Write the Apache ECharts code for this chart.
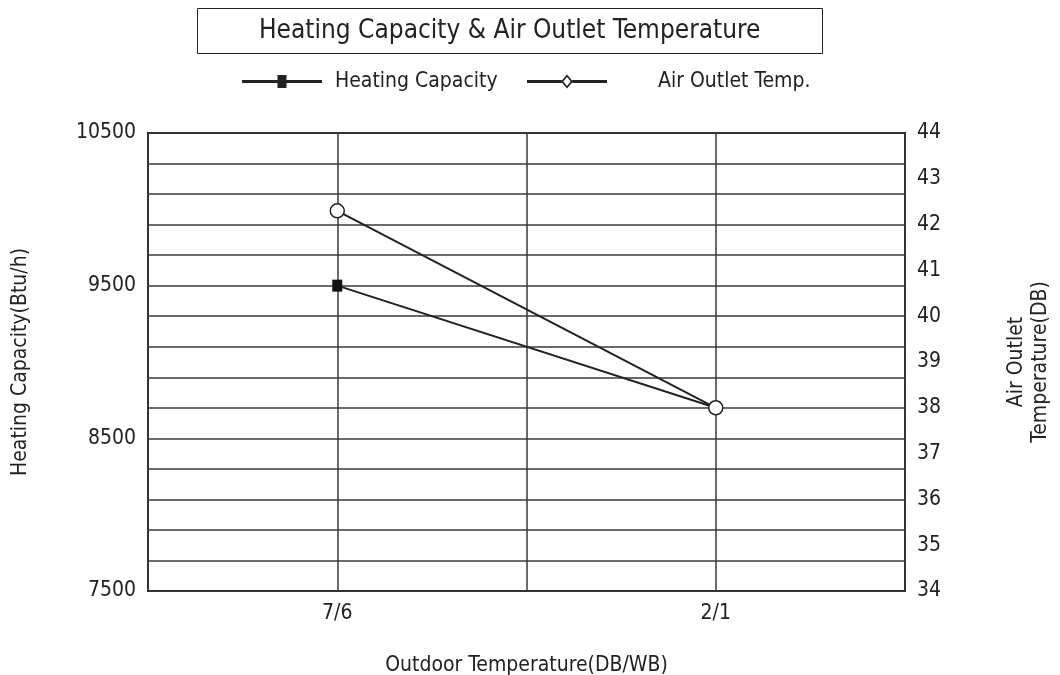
<!DOCTYPE html>
<html>
<head>
<meta charset="utf-8">
<script src="https://cdn.jsdelivr.net/npm/echarts@6/dist/echarts.min.js"></script>
<style>
  html, body { margin: 0; padding: 0; background: #fff; }
  #chart { width: 1060px; height: 675px; }
</style>
</head>
<body>
<div id="chart"></div>
<script>
// Outdoor conditions (DB/WB); empty slots give the grid its extra columns
const xSlots = ['', '7/6', '', '2/1', ''];
const conditions = ['7/6', '2/1'];
const heatingCapacity = [9500, 8700];   // Btu/h
const airOutletTemp = [42.3, 38.0];     // °C DB
const leftTickLabels = [7500, 8500, 9500, 10500];
const rightTickLabels = [34, 35, 36, 37, 38, 39, 40, 41, 42, 43, 44];

const FONT = "'Liberation Sans Narrow', 'DejaVu Sans Condensed', sans-serif";
const INK = '#222';

// legend glyphs: line with a filled square / line with a hollow diamond
const iconSquare = 'path://M0,5.6L35.5,5.6L35.5,0.5L44.5,0.5L44.5,5.6L80,5.6L80,8.4L44.5,8.4L44.5,13.5L35.5,13.5L35.5,8.4L0,8.4Z';
const iconDiamond = 'path://M0,5.6L34.6,5.6L34.6,8.4L0,8.4Z M45.4,5.6L80,5.6L80,8.4L45.4,8.4Z M40,0L46,7L40,14L34,7Z M40,2.4L36.3,7L40,11.6L43.7,7Z';
const legendItemStyle = { color: '#222', borderWidth: 0 };

const chart = echarts.init(document.getElementById('chart'), null, { renderer: 'canvas' });

chart.setOption({
  backgroundColor: '#fff',
  animation: false,
  textStyle: { fontFamily: FONT },
  title: {
    text: 'Heating Capacity & Air Outlet Temperature',
    left: 197,
    top: 8,
    padding: [10, 62, 10, 62],
    borderColor: INK,
    borderWidth: 1,
    textStyle: { fontFamily: FONT, fontSize: 26, fontWeight: 'normal', color: INK }
  },
  legend: [
    {
      data: [{ name: 'Heating Capacity', icon: iconSquare, itemStyle: legendItemStyle }],
      left: 237, top: 66,
      itemWidth: 80, itemHeight: 14,
      textStyle: { fontFamily: FONT, fontSize: 21, color: INK, padding: [0, 0, 0, 8] }
    },
    {
      data: [{ name: 'Air Outlet Temp.', icon: iconDiamond, itemStyle: legendItemStyle }],
      left: 522, top: 66,
      itemWidth: 80, itemHeight: 14,
      textStyle: { fontFamily: FONT, fontSize: 21, color: INK, padding: [0, 0, 0, 46] }
    }
  ],
  grid: {
    left: 148, right: 155, top: 133, bottom: 84,
    outerBoundsMode: 'none',
    containLabel: false,
    show: true, borderColor: INK, borderWidth: 2, backgroundColor: 'transparent'
  },
  xAxis: {
    type: 'category',
    data: xSlots,
    boundaryGap: false,
    axisLine: { show: false },
    axisTick: { show: false },
    axisLabel: { interval: 0, margin: 12, fontFamily: FONT, fontSize: 21, color: INK },
    splitLine: { show: true, interval: 0, lineStyle: { color: '#3a3a3a', width: 1.5 } },
    name: 'Outdoor Temperature(DB/WB)',
    nameLocation: 'middle',
    nameGap: 64,
    nameTextStyle: { fontFamily: FONT, fontSize: 21, color: INK }
  },
  yAxis: [
    {
      type: 'value',
      min: 7500, max: 10500, interval: 200,
      axisLine: { show: false },
      axisTick: { show: false },
      axisLabel: {
        margin: 12, fontFamily: FONT, fontSize: 21, color: INK,
        formatter: v => leftTickLabels.includes(v) ? String(v) : ''
      },
      splitLine: { show: true, lineStyle: { color: '#3a3a3a', width: 1.5 } },
      name: 'Heating Capacity(Btu/h)',
      nameLocation: 'middle',
      nameRotate: 90,
      nameGap: 117,
      nameTextStyle: { fontFamily: FONT, fontSize: 21, color: INK }
    },
    {
      type: 'value',
      position: 'right',
      min: 34, max: 44, interval: 1,
      axisLine: { show: false },
      axisTick: { show: false },
      axisLabel: {
        margin: 12, fontFamily: FONT, fontSize: 21, color: INK,
        formatter: v => rightTickLabels.includes(v) ? String(v) : ''
      },
      splitLine: { show: false },
      name: 'Air Outlet\nTemperature(DB)',
      nameLocation: 'middle',
      nameRotate: 90,
      nameGap: 100,
      nameTextStyle: { fontFamily: FONT, fontSize: 21, color: INK, lineHeight: 24 }
    }
  ],
  series: [
    {
      name: 'Heating Capacity',
      type: 'line',
      yAxisIndex: 0,
      data: conditions.map((c, i) => [c, heatingCapacity[i]]),
      symbol: 'rect',
      symbolSize: [10, 12],
      itemStyle: { color: '#111' },
      lineStyle: { color: '#222', width: 2 },
      z: 3
    },
    {
      name: 'Air Outlet Temp.',
      type: 'line',
      yAxisIndex: 1,
      data: conditions.map((c, i) => [c, airOutletTemp[i]]),
      symbol: 'circle',
      symbolSize: 14,
      itemStyle: { color: '#fff', borderColor: '#222', borderWidth: 1.5 },
      lineStyle: { color: '#222', width: 2 },
      z: 4
    }
  ]
});
</script>
</body>
</html>
